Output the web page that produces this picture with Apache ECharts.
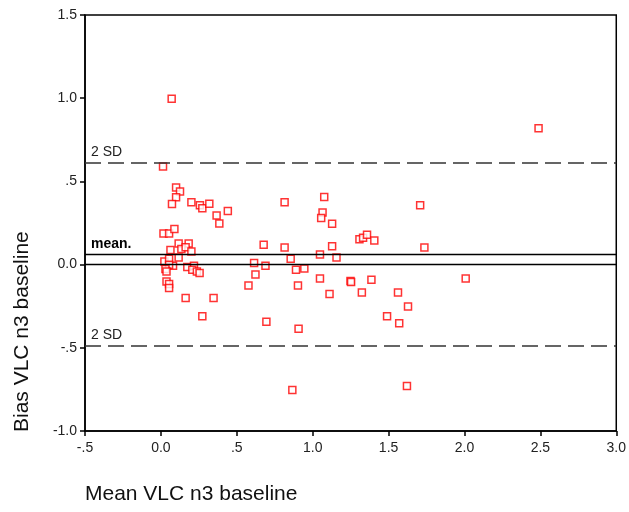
<!DOCTYPE html>
<html>
<head>
<meta charset="utf-8">
<script src="https://cdn.jsdelivr.net/npm/echarts@6/dist/echarts.min.js"></script>
<style>
  html, body { margin: 0; padding: 0; background: #fff; }
  #chart { width: 629px; height: 512px; }
</style>
</head>
<body>
<div id="chart"></div>
<script>
// mean of the two VLC n3 baseline measures (x) and their bias (y)
var meanVals = [
  0.014, 0.071, 2.488, 0.866, 1.621, 0.100, 0.126, 0.100, 0.073, 0.201,
  0.257, 0.273, 0.319, 0.367, 0.441, 0.385, 0.815, 0.017, 0.054, 0.089,
  0.117, 0.183, 0.063, 0.135, 0.163, 0.201, 0.117, 0.023, 0.054, 0.080,
  0.054, 0.030, 0.037, 0.174, 0.218, 0.207, 0.237, 0.255, 0.037, 0.054,
  0.054, 0.163, 0.347, 0.273, 0.677, 0.815, 0.855, 0.614, 0.689, 0.623,
  0.890, 0.577, 0.903, 0.695, 0.907, 1.076, 1.065, 1.056, 1.128, 1.708,
  1.308, 1.332, 1.358, 1.406, 1.128, 1.736, 1.048, 1.157, 0.945, 1.048,
  1.249, 1.253, 1.387, 2.008, 1.111, 1.324, 1.562, 1.628, 1.490, 1.570
];
var biasVals = [
  0.590, 0.996, 0.820, -0.753, -0.729, 0.464, 0.440, 0.404, 0.364, 0.374,
  0.356, 0.338, 0.366, 0.295, 0.322, 0.247, 0.374, 0.187, 0.187, 0.214,
  0.127, 0.127, 0.087, 0.093, 0.105, 0.079, 0.043, 0.019, 0.035, -0.007,
  -0.001, -0.027, -0.042, -0.015, -0.007, -0.031, -0.042, -0.051, -0.102, -0.117,
  -0.141, -0.200, -0.200, -0.310, 0.119, 0.103, 0.035, 0.009, -0.007, -0.060,
  -0.031, -0.126, -0.126, -0.344, -0.386, 0.406, 0.313, 0.280, 0.245, 0.356,
  0.153, 0.161, 0.179, 0.145, 0.111, 0.103, 0.061, 0.043, -0.023, -0.084,
  -0.099, -0.104, -0.091, -0.084, -0.176, -0.168, -0.168, -0.252, -0.310, -0.352
];
var meanBias = 0.059;
var upperSD = 0.607;
var lowerSD = -0.490;

var points = meanVals.map(function (x, i) { return [x, biasVals[i]]; });

// SPSS style: ".5", "-.5", "0.0"
function fmt(v) {
  if (v === 0) return '0.0';
  var s = v.toFixed(1);
  if (Math.abs(v) < 1) s = s.replace('0.', '.');
  return s;
}

var font = 'Arial, "Liberation Sans", sans-serif';
var chart = echarts.init(document.getElementById('chart'));
chart.setOption({
  animation: false,
  grid: {
    left: 85, right: 11, top: 15, bottom: 81,
    show: true, borderColor: '#000', borderWidth: 1.5
  },
  xAxis: {
    type: 'value', min: -0.5, max: 3.0, interval: 0.5,
    axisLine: { show: true, onZero: false, lineStyle: { color: '#000', width: 1.5 } },
    axisTick: { show: true, length: 5, lineStyle: { color: '#000', width: 1.5 } },
    axisLabel: { formatter: fmt, color: '#222', fontSize: 14, fontFamily: font, margin: 10 },
    splitLine: { show: false }
  },
  yAxis: {
    type: 'value', min: -1.0, max: 1.5, interval: 0.5,
    axisLine: { show: true, onZero: false, lineStyle: { color: '#000', width: 1.5 } },
    axisTick: { show: true, length: 5, lineStyle: { color: '#000', width: 1.5 } },
    axisLabel: { formatter: fmt, color: '#222', fontSize: 14, fontFamily: font, margin: 8 },
    splitLine: { show: false }
  },
  graphic: [
    {
      type: 'text', left: 85, top: 484,
      style: { text: 'Mean VLC n3 baseline', fontSize: 21, fontFamily: font, fill: '#111' }
    },
    {
      type: 'text', x: 12, y: 432, rotation: Math.PI / 2,
      style: { text: 'Bias VLC n3 baseline', fontSize: 21, fontFamily: font, fill: '#111' }
    }
  ],
  series: [
    {
      type: 'scatter',
      data: points,
      symbol: 'rect',
      symbolSize: 7,
      itemStyle: { color: '#fff', borderColor: '#ff0000', borderWidth: 1.5 },
      markLine: {
        silent: true,
        symbol: ['none', 'none'],
        data: [
          { yAxis: 0, lineStyle: { color: '#000', width: 1.3, type: 'solid' }, label: { show: false } },
          {
            yAxis: meanBias,
            lineStyle: { color: '#000', width: 1.3, type: 'solid' },
            label: { show: true, formatter: 'mean.', position: 'insideStartTop', distance: [6, 3],
              color: '#000', fontSize: 14, fontWeight: 'bold', fontFamily: font }
          },
          {
            yAxis: upperSD,
            lineStyle: { color: '#333', width: 1.5, type: [16, 7] },
            label: { show: true, formatter: '2 SD', position: 'insideStartTop', distance: [6, 4],
              color: '#222', fontSize: 14, fontFamily: font }
          },
          {
            yAxis: lowerSD,
            lineStyle: { color: '#333', width: 1.5, type: [16, 7] },
            label: { show: true, formatter: '2 SD', position: 'insideStartTop', distance: [6, 4],
              color: '#222', fontSize: 14, fontFamily: font }
          }
        ]
      }
    }
  ]
});
</script>
</body>
</html>
